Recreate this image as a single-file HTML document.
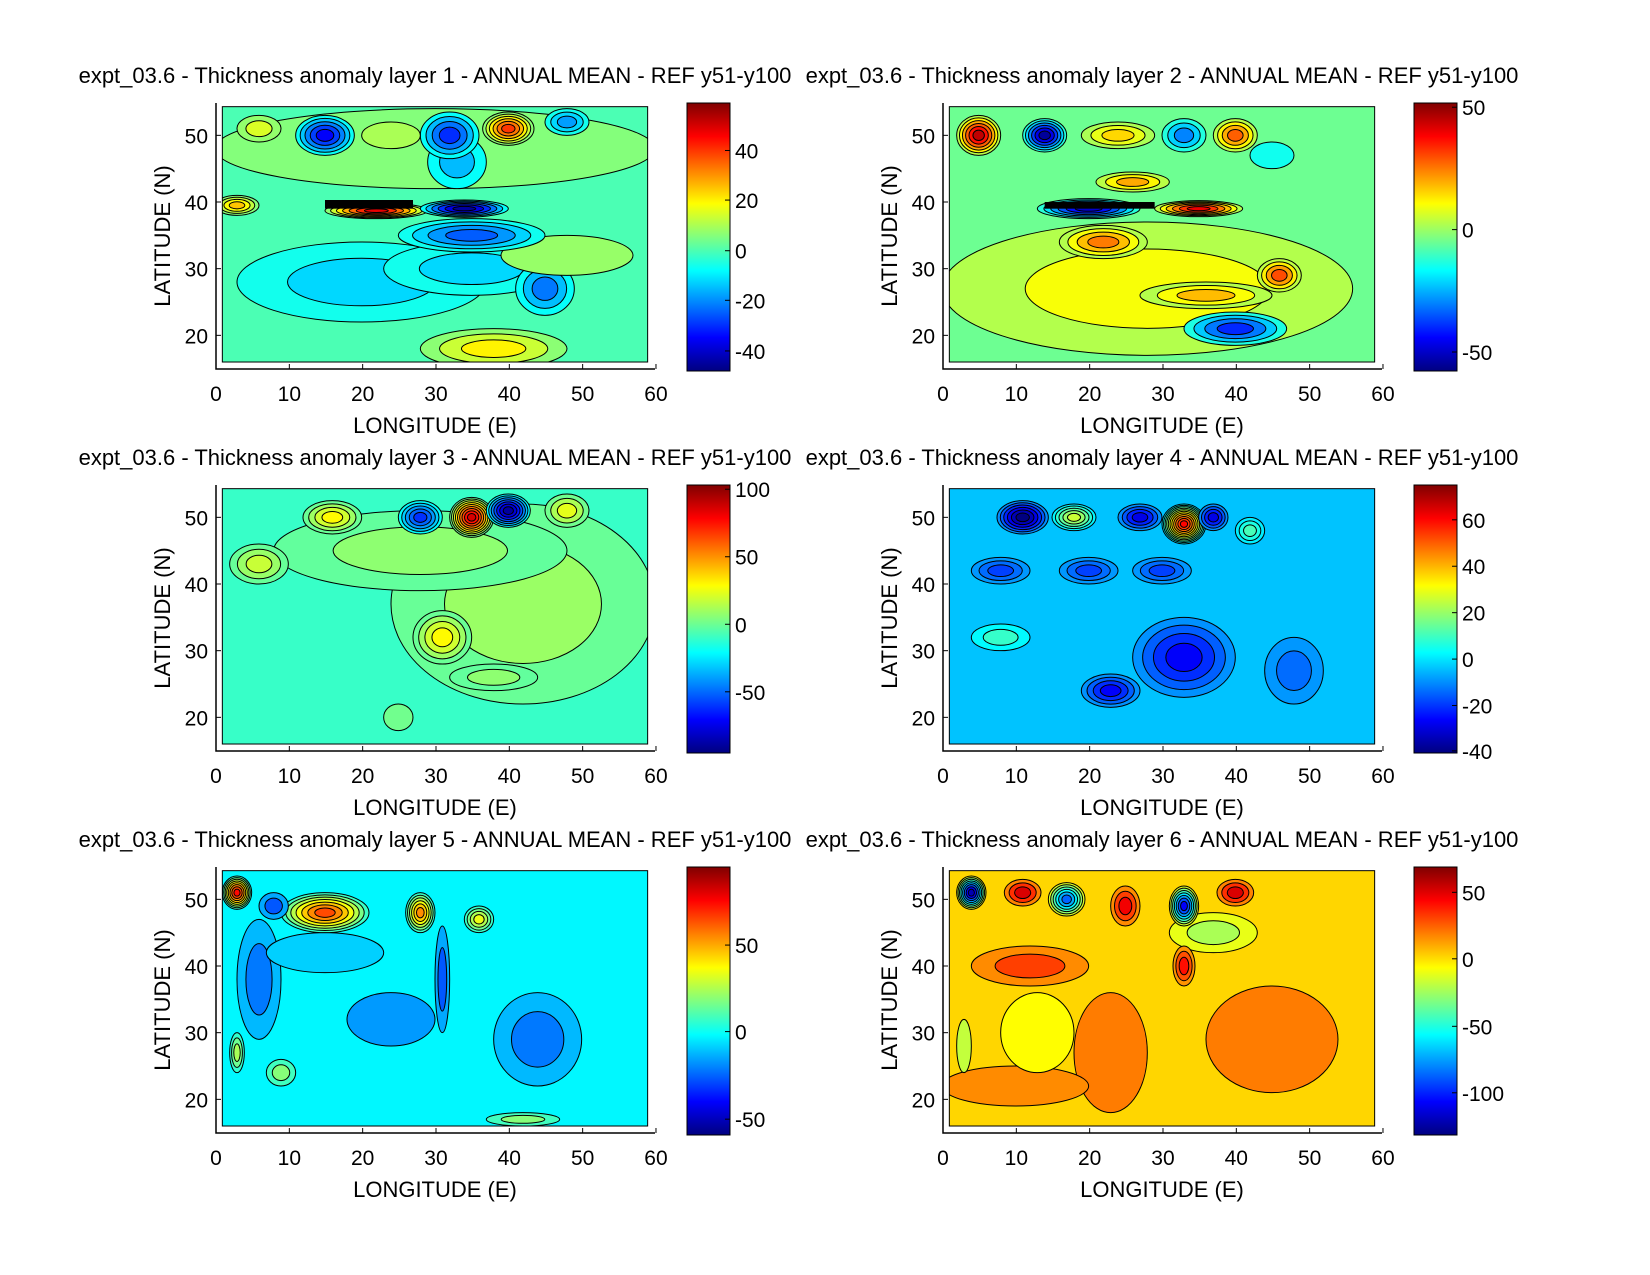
<!DOCTYPE html>
<html><head><meta charset="utf-8"><style>
html,body{margin:0;padding:0;background:#fff;}
svg{display:block;font-family:"Liberation Sans",sans-serif;}
</style></head><body>
<svg id="s" width="1650" height="1275" xmlns="http://www.w3.org/2000/svg"></svg>
<script>
function jet(t){t=Math.max(0,Math.min(1,t));function c(x){return Math.round(255*Math.max(0,Math.min(1,x)));}
return 'rgb('+c(1.5-Math.abs(4*t-3))+','+c(1.5-Math.abs(4*t-2))+','+c(1.5-Math.abs(4*t-1))+')';}
var P=[
{L:1,vmin:-48,vmax:59,bg:0,step:7,ticks:[[40,143],[20,190],[0,238],[-20,285],[-40,333]],
 blobs:[[30,48,30,6,6],[20,28,17,6,-12],[35,30,12,4,-12],[38,18,10,3,20],[45,27,4,4,-22],[48,32,9,3,8],[35,35,10,2.5,-25],[33,46,4,4,-15],[15,50,4,3,-35],[32,50,4,3.5,-30],[48,52,3,2,-18],[40,51,3.5,2.5,40],[6,51,3,2,15],[24,50,4,2,10],[3,39.5,3,1.5,25],[22,38.7,7,1.2,48],[34,39,6,1.3,-45]],
 black:[[15,27,39,40.3]]},
{L:2,vmin:-58,vmax:52,bg:-5,step:8,ticks:[[50,102],[0,218],[-50,334]],
 blobs:[[28,27,28,10,10],[22,34,6,2.5,25],[46,29,3,2.5,30],[36,26,9,2,18],[40,21,7,2.5,-40],[5,50,3,3,45],[14,50,3,2.5,-55],[24,50,5,2,15],[33,50,3,2.5,-30],[40,50,3,2.5,28],[45,47,3,2,-15],[26,43,5,1.5,20],[20,39,7,1.5,-50],[35,39,6,1.2,40]],
 black:[[14,29,39,40]]},
{L:3,vmin:-70,vmax:105,bg:5,step:10,ticks:[[100,465],[50,529],[0,593],[-50,657]],
 blobs:[[42,37,18,15,22],[28,45,20,6,20],[31,32,4,4,40],[6,43,4,3,30],[16,50,4,2.5,40],[28,50,3,2.5,-40],[35,50,3,3,90],[40,51,3,2.5,-65],[48,51,3,2.5,35],[38,26,6,2,20],[25,20,2,2,15]],black:[]},
{L:4,vmin:-42,vmax:75,bg:-5,step:6,ticks:[[60,494],[40,538],[20,582],[0,626],[-20,670],[-40,713]],
 blobs:[[33,29,7,6,-28],[23,24,4,2.5,-28],[8,42,4,2,-20],[20,42,4,2,-20],[30,42,4,2,-20],[8,32,4,2,8],[48,27,4,5,-15],[11,50,3.5,2.5,-42],[18,50,3,2,25],[27,50,3,2,-30],[33,49,3,3,60],[37,50,2,2,-30],[42,48,2,2,10]],black:[]},
{L:5,vmin:-62,vmax:90,bg:-6,step:10,ticks:[[50,898],[0,980],[-50,1063]],
 blobs:[[44,29,6,7,-25],[24,32,6,4,-20],[6,38,3,9,-25],[15,42,8,3,-12],[3,51,2,2.5,70],[15,48,6,3,60],[8,49,2,2,-30],[28,48,2,3,50],[31,38,1,8,-30],[36,47,2,2,30],[3,27,1,3,20],[9,24,2,2,15],[42,17,5,1,15]],black:[]},
{L:6,vmin:-135,vmax:68,bg:0,step:15,ticks:[[50,848],[0,911],[-50,975],[-100,1038]],
 blobs:[[23,27,5,9,18],[45,29,9,8,18],[12,40,8,3,30],[10,22,10,3,15],[13,30,5,6,-8],[37,45,6,3,-25],[4,51,2,2.5,-125],[11,51,2.5,2,50],[17,50,2.5,2.5,-90],[25,49,2,3,45],[33,49,2,3,-110],[40,51,2.5,2,50],[33,40,1.5,3,40],[3,28,1,4,-20]],black:[]}
];
var h='<defs><linearGradient id="jg" x1="0" y1="1" x2="0" y2="0">';
for(var i=0;i<=32;i++)h+='<stop offset="'+(i/32)+'" stop-color="'+jet(i/32)+'"/>';
h+='</linearGradient></defs>';
P.forEach(function(p,idx){
 var c=idx%2,r=Math.floor(idx/2),ax=216+727*c,at=103+382*r,ab=at+266;
 var cx=ax+219;
 function X(lon){return ax-1+lon*7.333;} function Y(lat){return at-1+(55-lat)*6.667;}
 var dl=X(1),dr=X(59),dt=Y(54.3),db=Y(16);
 h+='<text x="'+cx+'" y="'+(at-20)+'" font-size="22" text-anchor="middle">expt_03.6 - Thickness anomaly layer '+p.L+' - ANNUAL MEAN - REF y51-y100</text>';
 h+='<clipPath id="c'+idx+'"><rect x="'+dl+'" y="'+dt+'" width="'+(dr-dl)+'" height="'+(db-dt)+'"/></clipPath>';
 h+='<g clip-path="url(#c'+idx+')"><rect x="'+dl+'" y="'+dt+'" width="'+(dr-dl)+'" height="'+(db-dt)+'" fill="'+jet((p.bg-p.vmin)/(p.vmax-p.vmin))+'"/>';
 p.blobs.forEach(function(b){
  var n=Math.max(1,Math.round(Math.abs(b[4]-p.bg)/p.step));
  for(var k=0;k<n;k++){var f=Math.pow(1-k/n,0.75),v=p.bg+(k+1)/n*(b[4]-p.bg);
   h+='<ellipse cx="'+X(b[0])+'" cy="'+Y(b[1])+'" rx="'+(b[2]*7.333*f)+'" ry="'+(b[3]*6.667*f)+'" fill="'+jet((v-p.vmin)/(p.vmax-p.vmin))+'" stroke="#000" stroke-width="1"/>';}
 });
 p.black.forEach(function(b){h+='<rect x="'+X(b[0])+'" y="'+Y(b[3])+'" width="'+(X(b[1])-X(b[0]))+'" height="'+(Y(b[2])-Y(b[3]))+'" fill="#000"/>';});
 h+='</g><rect x="'+dl+'" y="'+dt+'" width="'+(dr-dl)+'" height="'+(db-dt)+'" fill="none" stroke="#000" stroke-width="1"/>';
 h+='<path d="M'+ax+','+at+'V'+ab+'H'+(ax+439)+'" fill="none" stroke="#000" stroke-width="1.5"/>';
 for(var lon=0;lon<=60;lon+=10){var x=X(lon)+1;h+='<line x1="'+x+'" y1="'+ab+'" x2="'+x+'" y2="'+(ab-5)+'" stroke="#000"/>';
  h+='<text x="'+x+'" y="'+(ab+32)+'" font-size="21" text-anchor="middle">'+lon+'</text>';}
 for(var lat=20;lat<=50;lat+=10){var y=Y(lat);h+='<line x1="'+ax+'" y1="'+y+'" x2="'+(ax+5)+'" y2="'+y+'" stroke="#000"/>';
  h+='<text x="'+(ax-8)+'" y="'+(y+8)+'" font-size="21" text-anchor="end">'+lat+'</text>';}
 h+='<text x="'+cx+'" y="'+(ab+64)+'" font-size="22" text-anchor="middle">LONGITUDE (E)</text>';
 h+='<text transform="translate('+(ax-46)+','+((at+ab)/2)+') rotate(-90)" font-size="22" text-anchor="middle">LATITUDE (N)</text>';
 var bx=687+727*c,by=103+382*r,bh=268;
 h+='<rect x="'+bx+'" y="'+by+'" width="43" height="'+bh+'" fill="url(#jg)" stroke="#000" stroke-width="1"/>';
 p.ticks.forEach(function(t){var fr=(t[1]-(98+363*r))/254,y=by+fr*bh;
  h+='<line x1="'+(bx+38)+'" y1="'+y+'" x2="'+(bx+43)+'" y2="'+y+'" stroke="#000"/>';
  h+='<text x="'+(bx+48)+'" y="'+(y+8)+'" font-size="21">'+t[0]+'</text>';});
});
document.getElementById('s').innerHTML=h;
</script>
</body></html>
